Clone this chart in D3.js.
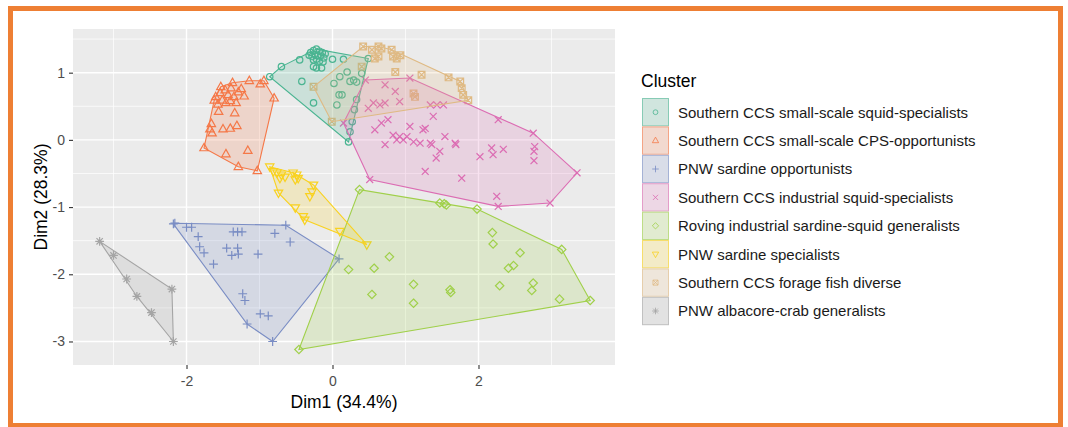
<!DOCTYPE html>
<html><head><meta charset="utf-8">
<script src="https://cdn.jsdelivr.net/npm/d3@7"></script>
<style>
body{margin:0;background:#fff}
svg{display:block}
text{font-family:"Liberation Sans",Arial,sans-serif}
</style>
</head><body>
<svg id="chart" width="1068" height="427"></svg>
<script>
// Cluster labels, colours and point shapes (in legend order)
const clusterNames = [
  "Southern CCS small-scale squid-specialists",
  "Southern CCS small-scale CPS-opportunists",
  "PNW sardine opportunists",
  "Southern CCS industrial squid-specialists",
  "Roving industrial sardine-squid generalists",
  "PNW sardine specialists",
  "Southern CCS forage fish diverse",
  "PNW albacore-crab generalists"
];
const clusterColors = ["#4bb592","#f57848","#7a8dc4","#dc6cb3","#a0d04a","#f9d220","#dfba84","#a5a5a5"];
const clusterShapes = ["circle","triangle","plus","cross","diamond","triangleDown","squareCross","star"];

// Dim1 / Dim2 coordinates of each vessel, one array per cluster
const squidSmallScale = [
  [-0.30,1.30],[-0.26,1.33],[-0.22,1.35],[-0.18,1.32],[-0.14,1.30],[-0.28,1.24],[-0.24,1.27],
  [-0.20,1.25],[-0.16,1.26],[-0.12,1.22],[-0.22,1.20],[-0.26,1.19],[-0.32,1.26],[-0.10,1.28],[-0.18,1.17],
  [-0.86,0.94],[-0.70,1.09],[-0.45,1.19],[0.00,1.20],[0.15,1.20],[-0.42,0.87],[-0.26,1.09],[-0.22,1.07],
  [-0.15,1.07],[-0.13,1.16],[0.20,1.01],[0.10,0.94],[0.24,0.87],[0.29,0.89],[0.33,0.86],[0.02,0.84],
  [0.09,0.67],[0.13,0.67],[-0.26,0.55],[0.06,0.52],[0.40,0.99],[0.49,1.21],[0.33,0.60],[0.30,0.45],
  [0.27,0.27],[0.24,0.12],[0.22,-0.03]
];
const cpsSmallScale = [
  [-1.76,-0.12],[-1.03,-0.46],[-1.29,-0.40],[-1.46,-0.21],[-1.16,-0.16],[-0.99,0.83],[-0.94,0.88],
  [-0.80,0.62],[-1.14,0.88],[-1.34,0.40],[-1.56,0.42],[-1.66,0.24],[-1.68,0.16],[-1.65,0.10],
  [-1.50,0.16],[-1.40,0.17],[-1.31,0.21],[-1.60,0.64],[-1.54,0.70],[-1.51,0.59],[-1.47,0.74],
  [-1.43,0.67],[-1.39,0.77],[-1.35,0.64],[-1.29,0.71],[-1.25,0.76],[-1.46,0.55],[-1.40,0.58],
  [-1.57,0.53],[-1.32,0.55],[-1.21,0.65],[-1.53,0.79],[-1.62,0.59],[-1.37,0.85]
];
const sardineOpportunists = [
  [-2.18,-1.25],[-2.16,-1.24],[-2.00,-1.30],[-1.93,-1.30],[-1.84,-1.44],[-1.82,-1.59],[-1.76,-1.68],
  [-1.63,-1.85],[-1.36,-1.37],[-1.30,-1.37],[-1.24,-1.37],[-1.45,-1.61],[-1.38,-1.72],[-1.30,-1.61],
  [-1.29,-1.70],[-1.02,-1.70],[-0.79,-1.39],[-0.64,-1.27],[-0.58,-1.52],[0.09,-1.77],[-1.23,-2.29],
  [-1.20,-2.39],[-1.17,-2.74],[-0.99,-2.59],[-0.88,-2.62],[-0.82,-3.00]
];
const squidIndustrial = [
  [0.45,0.89],[1.06,0.92],[2.27,0.30],[2.75,0.10],[3.35,-0.49],[2.98,-0.94],[2.27,-0.99],[0.51,-0.59],
  [0.15,0.25],[0.72,0.82],[0.86,0.72],[0.92,0.57],[0.56,0.55],[0.65,0.52],[0.72,0.55],[0.49,0.47],
  [1.34,0.52],[1.43,0.52],[1.52,0.52],[1.38,0.35],[0.58,0.15],[0.67,0.25],[0.76,0.30],[0.83,0.07],
  [0.88,0.00],[0.92,0.05],[0.97,0.00],[1.02,0.05],[1.06,0.20],[0.72,-0.07],[1.11,-0.03],[1.20,-0.05],
  [1.24,0.15],[1.27,0.17],[1.34,-0.05],[1.36,-0.07],[1.54,0.05],[1.68,-0.05],[1.69,-0.07],[1.47,-0.17],
  [1.42,-0.27],[1.27,-0.47],[1.77,-0.57],[2.02,-0.25],[2.18,-0.12],[2.20,-0.22],[2.34,-0.14],
  [2.77,-0.10],[2.76,-0.17],[2.76,-0.31],[2.25,-0.84]
];
const rovingGeneralists = [
  [0.37,-0.74],[1.47,-0.94],[1.53,-0.95],[1.56,-0.97],[1.98,-1.03],[3.14,-1.63],[3.53,-2.39],
  [-0.46,-3.12],[0.22,-1.93],[0.57,-1.91],[0.78,-1.74],[0.54,-2.30],[1.11,-2.15],[1.11,-2.43],
  [1.61,-2.23],[1.62,-2.27],[2.19,-1.38],[2.20,-1.55],[2.57,-1.68],[2.41,-1.91],[2.48,-1.87],
  [2.29,-2.17],[2.75,-2.13],[2.73,-2.24],[3.11,-2.37]
];
const sardineSpecialists = [
  [-0.86,-0.40],[-0.81,-0.47],[-0.76,-0.49],[-0.70,-0.52],[-0.65,-0.55],[-0.72,-0.57],[-0.54,-0.49],
  [-0.49,-0.52],[-0.47,-0.57],[-0.51,-0.59],[-0.26,-0.67],[-0.28,-0.77],[-0.31,-0.84],[-0.74,-0.79],
  [-0.51,-1.01],[-0.40,-1.14],[-0.38,-1.19],[0.10,-1.36],[0.47,-1.56]
];
const forageDiverse = [
  [0.42,1.39],[0.54,1.34],[0.63,1.39],[0.67,1.36],[0.58,1.21],[0.63,1.24],[0.81,1.34],[0.83,1.24],
  [0.88,1.21],[0.93,1.26],[0.86,1.01],[1.22,0.97],[1.59,0.93],[1.75,0.87],[1.77,0.77],[1.79,0.67],
  [1.86,0.59],[1.11,0.69],[1.13,0.64],[-0.26,0.79],[0.40,1.09],[-0.01,0.27]
];
const albacoreCrab = [
  [-3.19,-1.51],[-3.00,-1.72],[-2.82,-2.07],[-2.68,-2.33],[-2.48,-2.57],[-2.20,-2.22],[-2.18,-3.00]
];
const clusterPoints = [squidSmallScale, cpsSmallScale, sardineOpportunists, squidIndustrial,
  rovingGeneralists, sardineSpecialists, forageDiverse, albacoreCrab];

// Axis ticks and limits
const xMajor = [-2, 0, 2];
const xMinor = [-3, -1, 1, 3];
const yMajor = [-3, -2, -1, 0, 1];
const yMinor = [-2.5, -1.5, -0.5, 0.5, 1.5];
const xDomain = [-3.555, 3.87];
const yDomain = [-3.35, 1.65];

const svg = d3.select("#chart");
const panel = {left: 73, right: 615, top: 29, bottom: 365};
const x = d3.scaleLinear().domain(xDomain).range([panel.left, panel.right]);
const y = d3.scaleLinear().domain(yDomain).range([panel.bottom, panel.top]);

// Outer frame
svg.append("rect").attr("x", 10.5).attr("y", 8.5).attr("width", 1050).attr("height", 417)
  .attr("fill", "#fff").attr("stroke", "#ee7f34").attr("stroke-width", 5);

// Panel background and grid
svg.append("rect").attr("x", panel.left).attr("y", panel.top)
  .attr("width", panel.right - panel.left).attr("height", panel.bottom - panel.top)
  .attr("fill", "#ebebeb");
const grid = svg.append("g");
grid.selectAll(".vminor").data(xMinor).join("line")
  .attr("x1", d => x(d)).attr("x2", d => x(d)).attr("y1", panel.top).attr("y2", panel.bottom)
  .attr("stroke", "#fff").attr("stroke-width", 0.7);
grid.selectAll(".hminor").data(yMinor).join("line")
  .attr("y1", d => y(d)).attr("y2", d => y(d)).attr("x1", panel.left).attr("x2", panel.right)
  .attr("stroke", "#fff").attr("stroke-width", 0.7);
grid.selectAll(".vmajor").data(xMajor).join("line")
  .attr("x1", d => x(d)).attr("x2", d => x(d)).attr("y1", panel.top).attr("y2", panel.bottom)
  .attr("stroke", "#fff").attr("stroke-width", 1.4);
grid.selectAll(".hmajor").data(yMajor).join("line")
  .attr("y1", d => y(d)).attr("y2", d => y(d)).attr("x1", panel.left).attr("x2", panel.right)
  .attr("stroke", "#fff").attr("stroke-width", 1.4);

// Marker shapes (ggplot-style open symbols)
function shapePath(kind, s) {
  switch (kind) {
    case "circle":
      return `M${s},0A${s},${s} 0 1,1 ${-s},0A${s},${s} 0 1,1 ${s},0Z`;
    case "triangle":
      return `M0,${-s*1.15}L${s*1.05},${s*0.7}L${-s*1.05},${s*0.7}Z`;
    case "triangleDown":
      return `M0,${s*1.15}L${s*1.05},${-s*0.7}L${-s*1.05},${-s*0.7}Z`;
    case "plus":
      return `M${-s},0H${s}M0,${-s}V${s}`;
    case "cross": {
      const c = s * 0.75;
      return `M${-c},${-c}L${c},${c}M${-c},${c}L${c},${-c}`;
    }
    case "diamond":
      return `M0,${-s}L${s},0L0,${s}L${-s},0Z`;
    case "squareCross": {
      const c = s * 0.8;
      return `M${-c},${-c}H${c}V${c}H${-c}ZM${-c},${-c}L${c},${c}M${-c},${c}L${c},${-c}`;
    }
    case "star": {
      const c = s * 0.72;
      return `M${-s},0H${s}M0,${-s}V${s}M${-c},${-c}L${c},${c}M${-c},${c}L${c},${-c}`;
    }
  }
}
const shapeSize = {circle: 3.2, triangle: 4, triangleDown: 4, plus: 4.4, cross: 4.6,
  diamond: 4.2, squareCross: 4.2, star: 4.4};

// Points
const pointLayer = svg.append("g");
clusterPoints.forEach((pts, i) => {
  pointLayer.append("g").selectAll("path").data(pts).join("path")
    .attr("transform", d => `translate(${x(d[0])},${y(d[1])})`)
    .attr("d", shapePath(clusterShapes[i], shapeSize[clusterShapes[i]]))
    .attr("fill", "none").attr("stroke", clusterColors[i]).attr("stroke-width", 1.2);
});

// Convex hulls
const hullLayer = svg.append("g");
clusterPoints.forEach((pts, i) => {
  const hull = d3.polygonHull(pts.map(d => [x(d[0]), y(d[1])]));
  hullLayer.append("path")
    .attr("d", "M" + hull.join("L") + "Z")
    .attr("fill", clusterColors[i]).attr("fill-opacity", 0.2)
    .attr("stroke", clusterColors[i]).attr("stroke-width", 1.1);
});

// Axes
const xAxis = svg.append("g").attr("transform", `translate(0,${panel.bottom})`)
  .call(d3.axisBottom(x).tickValues(xMajor).tickSize(4).tickPadding(4).tickFormat(d => String(d)));
const yAxis = svg.append("g").attr("transform", `translate(${panel.left},0)`)
  .call(d3.axisLeft(y).tickValues(yMajor).tickSize(4).tickPadding(4).tickFormat(d => String(d)));
[xAxis, yAxis].forEach(a => {
  a.select(".domain").remove();
  a.selectAll(".tick line").attr("stroke", "#333").attr("stroke-width", 1.1);
  a.selectAll(".tick text").attr("fill", "#4d4d4d").style("font-size", "14px")
    .style("font-family", "'Liberation Sans', Arial, sans-serif");
});
xAxis.selectAll(".tick text").attr("dy", "0.95em");

// Axis titles
svg.append("text").attr("x", (panel.left + panel.right) / 2).attr("y", 408)
  .attr("text-anchor", "middle").style("font-size", "17.5px").attr("fill", "#000")
  .text("Dim1 (34.4%)");
svg.append("text").attr("transform", `translate(46.5,${(panel.top + panel.bottom) / 2}) rotate(-90)`)
  .attr("text-anchor", "middle").style("font-size", "17.5px").attr("fill", "#000")
  .text("Dim2 (28.3%)");

// Legend
const legend = svg.append("g");
legend.append("text").attr("x", 641).attr("y", 87).style("font-size", "17.5px").attr("fill", "#000")
  .text("Cluster");
const keyW = 27, keyH = 28.4, keyX = 642, keyY = 98;
clusterNames.forEach((name, i) => {
  const ky = keyY + i * keyH;
  legend.append("rect").attr("x", keyX).attr("y", ky).attr("width", keyW).attr("height", keyH)
    .attr("fill", "#f2f2f2");
  legend.append("rect").attr("x", keyX + 0.5).attr("y", ky + 0.5).attr("width", keyW - 1).attr("height", keyH - 1)
    .attr("fill", clusterColors[i]).attr("fill-opacity", 0.2)
    .attr("stroke", clusterColors[i]).attr("stroke-opacity", 0.6).attr("stroke-width", 1);
  legend.append("path")
    .attr("transform", `translate(${keyX + keyW / 2},${ky + keyH / 2})`)
    .attr("d", shapePath(clusterShapes[i], shapeSize[clusterShapes[i]] * 0.75))
    .attr("fill", "none").attr("stroke", clusterColors[i]).attr("stroke-width", 0.8);
  legend.append("text").attr("x", 678).attr("y", ky + keyH / 2 + 5.3)
    .style("font-size", "15px").attr("fill", "#1a1a1a").text(name);
});
</script>
</body></html>
